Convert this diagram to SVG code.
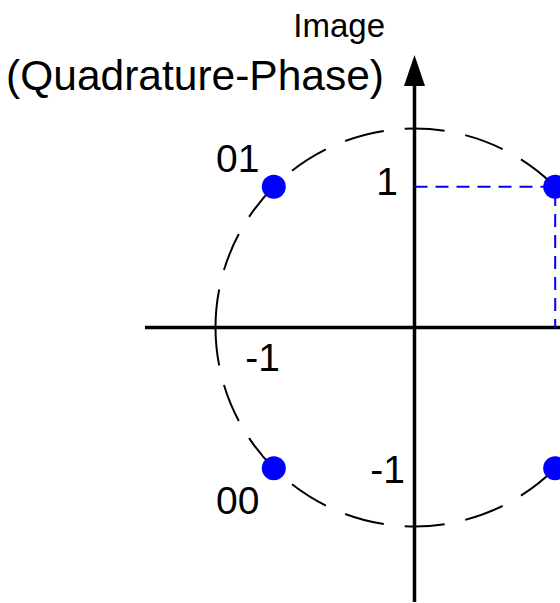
<svg xmlns="http://www.w3.org/2000/svg" width="560" height="603" viewBox="0 0 560 603">
<style>
text{font-family:"Liberation Sans",Arial,sans-serif;font-size:39px;fill:#000}
.circ{fill:none;stroke:#000;stroke-width:2}
.ax{fill:none;stroke:#000;stroke-width:3.5}
.bd{fill:none;stroke:#00f;stroke-width:2;stroke-dasharray:13 8}
.dot{fill:#00f}
</style>
<rect width="560" height="603" fill="#fff"/>
<g id="circle">
<path class="circ" d="M555.2,186.8 A199,199 0 0 0 273.8,186.8" stroke-dasharray="40 21" stroke-dashoffset="57"/>
<path class="circ" d="M555.2,468.2 A199,199 0 0 1 273.8,468.2" stroke-dasharray="40 21" stroke-dashoffset="57"/>
<path class="circ" d="M273.8,186.8 A199,199 0 0 0 215.5,327.5" stroke-dasharray="39 20"/>
<path class="circ" d="M273.8,468.2 A199,199 0 0 1 215.5,327.5" stroke-dasharray="39 20"/>
<path class="circ" d="M555.2,186.8 A199,199 0 0 1 613.5,327.5" stroke-dasharray="39 20"/>
<path class="circ" d="M555.2,468.2 A199,199 0 0 0 613.5,327.5" stroke-dasharray="39 20"/>
</g>
<g id="connectors">
<line class="ax" x1="145" y1="327.5" x2="600" y2="327.5"/>
<line class="ax" x1="414.5" y1="602" x2="414.5" y2="80"/>
<polygon points="414.5,55 404,86 425,86" fill="#000"/>
<path class="bd" d="M414.5,186.8 H555.2 V327.5"/>
</g>
<g id="axis-labels">
<text x="385" y="37" text-anchor="end" style="font-size:33px">Image</text>
<text x="384" y="90" text-anchor="end" style="font-size:42.5px">(Quadrature-Phase)</text>
<text x="398" y="195" text-anchor="end">1</text>
<text x="280" y="371" text-anchor="end">-1</text>
<text x="405" y="483" text-anchor="end">-1</text>
</g>
<g id="p01"><circle class="dot" cx="273.8" cy="186.8" r="12"/><text x="216" y="172">01</text></g>
<g id="p11"><circle class="dot" cx="555.2" cy="186.8" r="12"/></g>
<g id="p00"><circle class="dot" cx="273.8" cy="468.2" r="12"/><text x="216" y="514">00</text></g>
<g id="p10"><circle class="dot" cx="555.2" cy="468.2" r="12"/></g>
</svg>
